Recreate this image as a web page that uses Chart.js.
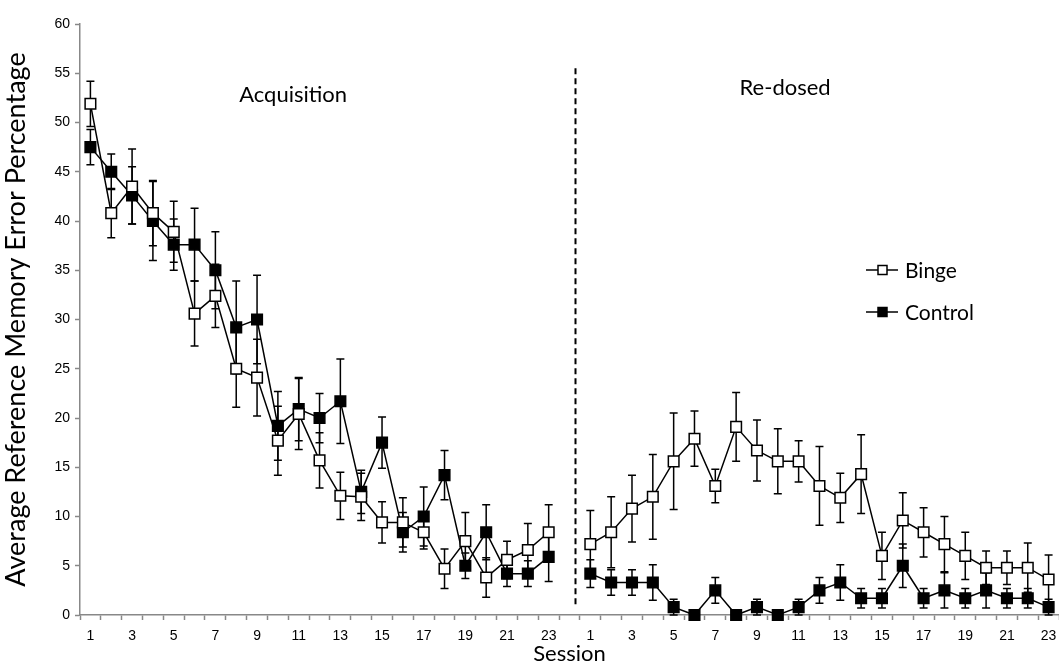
<!DOCTYPE html>
<html>
<head>
<meta charset="utf-8">
<script src="https://cdn.jsdelivr.net/npm/chart.js@4/dist/chart.umd.min.js"></script>
<style>
  html, body { margin: 0; padding: 0; background: #fff; overflow: hidden; }
  #wrap { width: 1059px; height: 665px; position: relative; }
</style>
</head>
<body>
<div id="wrap"><canvas id="c"></canvas></div>
<script>
// Session labels: 23 acquisition sessions, one empty slot, 23 re-dosed sessions
const sessions = [
  '1','2','3','4','5','6','7','8','9','10','11','12','13','14','15','16','17','18','19','20','21','22','23',
  '',
  '1','2','3','4','5','6','7','8','9','10','11','12','13','14','15','16','17','18','19','20','21','22','23'
];

// Binge group: mean error % and SEM
const bingeMean = [
  51.9, 40.8, 43.5, 40.8, 38.9, 30.6, 32.4, 25.0, 24.1, 17.7, 20.4, 15.7, 12.1, 12.0, 9.4, 9.4, 8.4, 4.7, 7.5, 3.8, 5.6, 6.6, 8.4,
  null,
  7.2, 8.4, 10.8, 12.0, 15.6, 17.9, 13.1, 19.1, 16.7, 15.6, 15.6, 13.1, 11.9, 14.3, 6.0, 9.6, 8.4, 7.2, 6.0, 4.8, 4.8, 4.8, 3.6
];
const bingeSem = [
  2.3, 2.5, 3.8, 3.3, 3.1, 3.3, 3.2, 3.9, 3.9, 3.5, 3.6, 2.8, 2.4, 2.4, 2.1, 2.5, 1.7, 2.0, 2.9, 2.0, 1.9, 2.7, 2.8,
  null,
  3.4, 3.6, 3.4, 4.3, 4.9, 2.8, 1.7, 3.5, 3.1, 3.3, 2.1, 4.0, 2.5, 4.0, 2.4, 2.8, 2.5, 2.8, 2.4, 1.7, 1.7, 2.5, 2.5
];

// Control group: mean error % and SEM
const controlMean = [
  47.5, 45.0, 42.6, 40.0, 37.6, 37.6, 35.0, 29.2, 30.0, 19.2, 20.9, 20.0, 21.7, 12.5, 17.5, 8.4, 10.0, 14.2, 5.0, 8.4, 4.2, 4.2, 5.9,
  null,
  4.2, 3.3, 3.3, 3.3, 0.8, 0.0, 2.5, 0.0, 0.8, 0.0, 0.8, 2.5, 3.3, 1.7, 1.7, 5.0, 1.7, 2.5, 1.7, 2.5, 1.7, 1.7, 0.8
];
const controlSem = [
  1.8, 1.8, 2.9, 4.0, 2.6, 3.7, 3.9, 4.7, 4.5, 3.5, 3.2, 2.5, 4.3, 2.2, 2.6, 2.0, 3.0, 2.5, 1.3, 2.8, 1.3, 1.3, 2.5,
  null,
  1.4, 1.3, 1.3, 1.8, 0.8, 0.0, 1.3, 0.0, 0.8, 0.0, 0.8, 1.3, 1.8, 1.0, 1.0, 2.2, 1.0, 1.8, 1.0, 1.8, 1.0, 1.0, 0.8
];

const yTicks = [0, 5, 10, 15, 20, 25, 30, 35, 40, 45, 50, 55, 60];

const TEXT_FONT = 'Lato, "Open Sans", sans-serif';
const TICK_FONT = '"Liberation Sans", Arial, sans-serif';

// Vertical SEM bars with caps, drawn underneath the markers
const errorBars = {
  id: 'errorBars',
  beforeDatasetsDraw(chart) {
    const ctx = chart.ctx;
    const y = chart.scales.y;
    ctx.save();
    ctx.strokeStyle = '#000';
    ctx.lineWidth = 1.5;
    chart.data.datasets.forEach((ds, di) => {
      const meta = chart.getDatasetMeta(di);
      meta.data.forEach((pt, i) => {
        const m = ds.data[i], e = ds.sem[i];
        if (m == null || !e) return;
        const top = y.getPixelForValue(m + e);
        const bot = y.getPixelForValue(Math.max(0, m - e));
        const x = pt.x;
        ctx.beginPath();
        ctx.moveTo(x, top); ctx.lineTo(x, bot);
        ctx.moveTo(x - 4, top); ctx.lineTo(x + 4, top);
        ctx.moveTo(x - 4, bot); ctx.lineTo(x + 4, bot);
        ctx.stroke();
      });
    });
    ctx.restore();
  }
};

// Phase divider, phase labels and legend
const overlay = {
  id: 'overlay',
  afterDraw(chart) {
    const ctx = chart.ctx;
    const xs = chart.scales.x, ys = chart.scales.y;
    const area = chart.chartArea;
    ctx.save();

    // dashed divider between the two phases
    const dx = Math.round(xs.getPixelForValue(23.26)) + 0.5;
    ctx.strokeStyle = '#000';
    ctx.lineWidth = 2;
    ctx.setLineDash([6, 4]);
    ctx.beginPath();
    ctx.moveTo(dx, ys.getPixelForValue(55.5));
    ctx.lineTo(dx, ys.getPixelForValue(0.8));
    ctx.stroke();
    ctx.setLineDash([]);

    // phase labels
    ctx.fillStyle = '#000';
    ctx.font = '22px ' + TEXT_FONT;
    ctx.textAlign = 'center';
    ctx.textBaseline = 'alphabetic';
    ctx.fillText('Acquisition', xs.getPixelForValue(9.73), ys.getPixelForValue(52.1));
    ctx.fillText('Re-dosed', xs.getPixelForValue(33.35), ys.getPixelForValue(52.8));

    // legend
    const items = [
      { label: 'Binge', fill: '#fff', y: area.top + 246 },
      { label: 'Control', fill: '#000', y: area.top + 288 }
    ];
    const lx = area.right - 193;
    items.forEach(it => {
      ctx.strokeStyle = '#000';
      ctx.lineWidth = 1.5;
      ctx.beginPath();
      ctx.moveTo(lx, it.y); ctx.lineTo(lx + 32, it.y);
      ctx.stroke();
      ctx.fillStyle = it.fill;
      ctx.fillRect(lx + 12, it.y - 4.5, 9, 9);
      ctx.strokeRect(lx + 12, it.y - 4.5, 9, 9);
      ctx.fillStyle = '#000';
      ctx.textAlign = 'left';
      ctx.textBaseline = 'middle';
      ctx.font = '21px ' + TEXT_FONT;
      ctx.fillText(it.label, lx + 39, it.y + 1);
    });
    ctx.restore();
  }
};

new Chart(document.getElementById('c'), {
  type: 'line',
  data: {
    labels: sessions,
    datasets: [
      {
        label: 'Binge',
        data: bingeMean,
        sem: bingeSem,
        borderColor: '#000',
        borderWidth: 1.5,
        pointStyle: 'rect',
        pointRadius: 7.5,
        pointHoverRadius: 7.5,
        pointBackgroundColor: '#fff',
        pointBorderColor: '#000',
        pointBorderWidth: 1.5,
        spanGaps: false,
        clip: false,
        tension: 0
      },
      {
        label: 'Control',
        data: controlMean,
        sem: controlSem,
        borderColor: '#000',
        borderWidth: 1.5,
        pointStyle: 'rect',
        pointRadius: 7.5,
        pointHoverRadius: 7.5,
        pointBackgroundColor: '#000',
        pointBorderColor: '#000',
        pointBorderWidth: 1.5,
        spanGaps: false,
        clip: false,
        tension: 0
      }
    ]
  },
  options: {
    responsive: true,
    maintainAspectRatio: false,
    animation: false,
    events: [],
    layout: { autoPadding: false, padding: { top: 24, right: 0, bottom: 0, left: 0 } },
    plugins: {
      legend: { display: false },
      tooltip: { enabled: false }
    },
    scales: {
      x: {
        type: 'category',
        offset: true,
        afterFit(s) { s.height = 50; s.paddingLeft = 0; s.paddingRight = 0; },
        grid: {
          display: true,
          offset: true,
          drawOnChartArea: false,
          drawTicks: true,
          tickLength: 5,
          color: '#888',
          tickWidth: 1.5
        },
        border: { display: true, color: '#888', width: 1.5 },
        ticks: {
          autoSkip: false,
          maxRotation: 0,
          padding: 8,
          color: '#000',
          font: { family: TICK_FONT, size: 14 },
          callback(value, index) {
            const s = sessions[index];
            return (s !== '' && Number(s) % 2 === 1) ? s : '';
          }
        },
        title: {
          display: true,
          text: 'Session',
          color: '#000',
          font: { family: TEXT_FONT, size: 22 },
          padding: { top: 0, bottom: -2 }
        }
      },
      y: {
        min: 0,
        max: 60,
        afterFit(s) { s.width = 80; },
        afterBuildTicks(s) { s.ticks = yTicks.map(v => ({ value: v })); },
        grid: {
          display: true,
          drawOnChartArea: false,
          drawTicks: true,
          tickLength: 5,
          color: '#888',
          tickWidth: 1.5
        },
        border: { display: true, color: '#888', width: 1.5 },
        ticks: {
          padding: 5,
          color: '#000',
          font: { family: TICK_FONT, size: 14 }
        },
        title: {
          display: true,
          text: 'Average Reference Memory Error Percentage',
          color: '#000',
          font: { family: TEXT_FONT, size: 27 },
          padding: { top: 0, bottom: 0 }
        }
      }
    }
  },
  plugins: [errorBars, overlay]
});
</script>
</body>
</html>
